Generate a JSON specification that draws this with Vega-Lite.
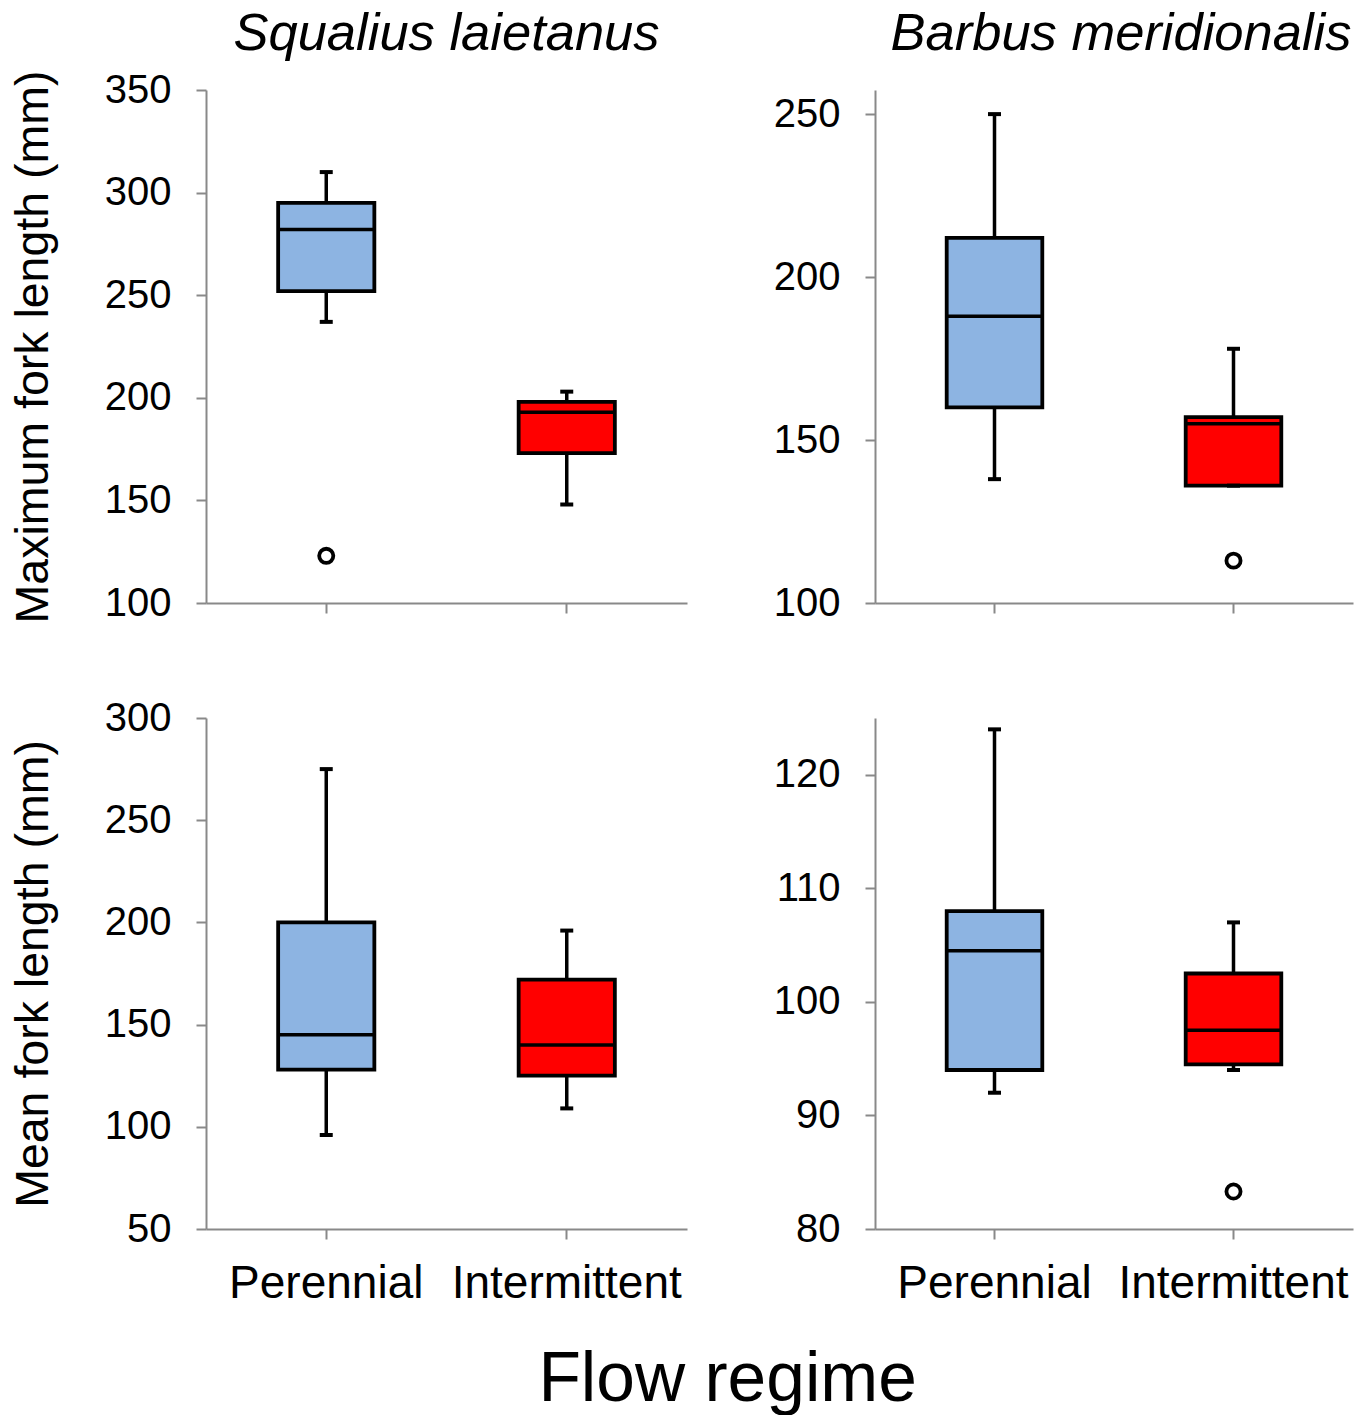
{
  "$schema": "https://vega.github.io/schema/vega-lite/v6.json",
  "background": "white",
  "padding": {"left": 10, "top": 7, "right": 14, "bottom": 0},
  "datasets": {
    "boxes": [
      {"panel": "TL", "regime": "Perennial", "lo": 237, "q1": 252, "med": 282, "q3": 295, "hi": 310, "outlier": 123},
      {"panel": "TL", "regime": "Intermittent", "lo": 148, "q1": 173, "med": 193, "q3": 198, "hi": 203, "outlier": null},
      {"panel": "TR", "regime": "Perennial", "lo": 138, "q1": 160, "med": 188, "q3": 212, "hi": 250, "outlier": null},
      {"panel": "TR", "regime": "Intermittent", "lo": 136, "q1": 136, "med": 155, "q3": 157, "hi": 178, "outlier": 113},
      {"panel": "BL", "regime": "Perennial", "lo": 96, "q1": 128, "med": 145, "q3": 200, "hi": 275, "outlier": null},
      {"panel": "BL", "regime": "Intermittent", "lo": 109, "q1": 125, "med": 140, "q3": 172, "hi": 196, "outlier": null},
      {"panel": "BR", "regime": "Perennial", "lo": 92, "q1": 94, "med": 104.5, "q3": 108, "hi": 124, "outlier": null},
      {"panel": "BR", "regime": "Intermittent", "lo": 94, "q1": 94.5, "med": 97.5, "q3": 102.5, "hi": 107, "outlier": 83.3}
    ]
  },
  "title": {"text": "Flow regime", "orient": "bottom", "anchor": "middle", "fontSize": 69.5, "fontWeight": "normal", "font": "Liberation Sans", "color": "black", "offset": 40, "dx": 46},
  "config": {
    "view": {"stroke": null},
    "font": "Liberation Sans",
    "axis": {"domainColor": "#898989", "domainWidth": 2, "tickColor": "#898989", "tickWidth": 2, "tickSize": 10, "labelFont": "Liberation Sans", "labelFontSize": 40, "labelColor": "black", "labelLimit": 0, "titleFont": "Liberation Sans", "titleFontWeight": "normal", "titleColor": "black", "grid": false},
    "title": {"font": "Liberation Sans", "color": "black"}
  },
  "vconcat": [
    {
      "hconcat": [
        {
          "width": 481, "height": 513,
          "title": {"text": "Squalius laietanus", "fontSize": 52.5, "fontStyle": "italic", "fontWeight": "normal", "offset": 9},
          "data": {"name": "boxes"},
          "transform": [{"filter": "datum.panel === 'TL'"}],
          "encoding": {"x": {"field": "regime", "type": "nominal", "scale": {"domain": ["Perennial", "Intermittent"], "paddingInner": 0, "paddingOuter": 0}, "axis": {"labels": false, "title": null}}},
          "layer": [
            {"mark": {"type": "rule", "strokeWidth": 3.5, "color": "black"}, "encoding": {"y": {"field": "lo", "type": "quantitative", "scale": {"domain": [100, 350], "nice": false}, "axis": {"values": [100, 150, 200, 250, 300, 350], "title": "Maximum fork length (mm)", "titleFontSize": 46.5, "titlePadding": 47, "labelPadding": 25}}, "y2": {"field": "hi"}}},
            {"mark": {"type": "bar", "stroke": "black", "strokeWidth": 3.8, "width": {"band": 0.4}}, "encoding": {"y": {"field": "q1", "type": "quantitative"}, "y2": {"field": "q3"}, "fill": {"field": "regime", "type": "nominal", "scale": {"domain": ["Perennial", "Intermittent"], "range": ["#8DB4E2", "#FF0000"]}, "legend": null}}},
            {"mark": {"type": "tick", "color": "black", "size": 97, "thickness": 3.5, "opacity": 1}, "encoding": {"y": {"field": "med", "type": "quantitative"}}},
            {"mark": {"type": "tick", "color": "black", "size": 13, "thickness": 4, "opacity": 1}, "encoding": {"y": {"field": "lo", "type": "quantitative"}}},
            {"mark": {"type": "tick", "color": "black", "size": 13, "thickness": 4, "opacity": 1}, "encoding": {"y": {"field": "hi", "type": "quantitative"}}},
            {"mark": {"type": "point", "shape": "circle", "filled": false, "stroke": "black", "strokeWidth": 3.8, "size": 200, "opacity": 1}, "encoding": {"y": {"field": "outlier", "type": "quantitative"}}}
          ]
        },
        {
          "width": 478, "height": 513,
          "title": {"text": "Barbus meridionalis", "fontSize": 52.5, "fontStyle": "italic", "fontWeight": "normal", "offset": 29, "dx": 7},
          "data": {"name": "boxes"},
          "transform": [{"filter": "datum.panel === 'TR'"}],
          "encoding": {"x": {"field": "regime", "type": "nominal", "scale": {"domain": ["Perennial", "Intermittent"], "paddingInner": 0, "paddingOuter": 0}, "axis": {"labels": false, "title": null}}},
          "layer": [
            {"mark": {"type": "rule", "strokeWidth": 3.5, "color": "black"}, "encoding": {"y": {"field": "lo", "type": "quantitative", "scale": {"domain": [100, 257.4], "nice": false}, "axis": {"values": [100, 150, 200, 250], "title": null, "labelPadding": 25}}, "y2": {"field": "hi"}}},
            {"mark": {"type": "bar", "stroke": "black", "strokeWidth": 3.8, "width": {"band": 0.4}}, "encoding": {"y": {"field": "q1", "type": "quantitative"}, "y2": {"field": "q3"}, "fill": {"field": "regime", "type": "nominal", "scale": {"domain": ["Perennial", "Intermittent"], "range": ["#8DB4E2", "#FF0000"]}, "legend": null}}},
            {"mark": {"type": "tick", "color": "black", "size": 97, "thickness": 3.5, "opacity": 1}, "encoding": {"y": {"field": "med", "type": "quantitative"}}},
            {"mark": {"type": "tick", "color": "black", "size": 13, "thickness": 4, "opacity": 1}, "encoding": {"y": {"field": "lo", "type": "quantitative"}}},
            {"mark": {"type": "tick", "color": "black", "size": 13, "thickness": 4, "opacity": 1}, "encoding": {"y": {"field": "hi", "type": "quantitative"}}},
            {"mark": {"type": "point", "shape": "circle", "filled": false, "stroke": "black", "strokeWidth": 3.8, "size": 200, "opacity": 1}, "encoding": {"y": {"field": "outlier", "type": "quantitative"}}}
          ]
        }
      ],
      "spacing": 86
    },
    {
      "hconcat": [
        {
          "width": 481, "height": 511,
          "data": {"name": "boxes"},
          "transform": [{"filter": "datum.panel === 'BL'"}],
          "encoding": {"x": {"field": "regime", "type": "nominal", "scale": {"domain": ["Perennial", "Intermittent"], "paddingInner": 0, "paddingOuter": 0}, "axis": {"labels": true, "labelAngle": 0, "labelFontSize": 46, "labelPadding": 22, "title": null}}},
          "layer": [
            {"mark": {"type": "rule", "strokeWidth": 3.5, "color": "black"}, "encoding": {"y": {"field": "lo", "type": "quantitative", "scale": {"domain": [50, 300], "nice": false}, "axis": {"values": [50, 100, 150, 200, 250, 300], "title": "Mean fork length (mm)", "titleFontSize": 46.5, "titlePadding": 47, "labelPadding": 25}}, "y2": {"field": "hi"}}},
            {"mark": {"type": "bar", "stroke": "black", "strokeWidth": 3.8, "width": {"band": 0.4}}, "encoding": {"y": {"field": "q1", "type": "quantitative"}, "y2": {"field": "q3"}, "fill": {"field": "regime", "type": "nominal", "scale": {"domain": ["Perennial", "Intermittent"], "range": ["#8DB4E2", "#FF0000"]}, "legend": null}}},
            {"mark": {"type": "tick", "color": "black", "size": 97, "thickness": 3.5, "opacity": 1}, "encoding": {"y": {"field": "med", "type": "quantitative"}}},
            {"mark": {"type": "tick", "color": "black", "size": 13, "thickness": 4, "opacity": 1}, "encoding": {"y": {"field": "lo", "type": "quantitative"}}},
            {"mark": {"type": "tick", "color": "black", "size": 13, "thickness": 4, "opacity": 1}, "encoding": {"y": {"field": "hi", "type": "quantitative"}}},
            {"mark": {"type": "point", "shape": "circle", "filled": false, "stroke": "black", "strokeWidth": 3.8, "size": 200, "opacity": 1}, "encoding": {"y": {"field": "outlier", "type": "quantitative"}}}
          ]
        },
        {
          "width": 478, "height": 511,
          "data": {"name": "boxes"},
          "transform": [{"filter": "datum.panel === 'BR'"}],
          "encoding": {"x": {"field": "regime", "type": "nominal", "scale": {"domain": ["Perennial", "Intermittent"], "paddingInner": 0, "paddingOuter": 0}, "axis": {"labels": true, "labelAngle": 0, "labelFontSize": 46, "labelPadding": 22, "title": null}}},
          "layer": [
            {"mark": {"type": "rule", "strokeWidth": 3.5, "color": "black"}, "encoding": {"y": {"field": "lo", "type": "quantitative", "scale": {"domain": [80, 125], "nice": false}, "axis": {"values": [80, 90, 100, 110, 120], "title": null, "labelPadding": 25}}, "y2": {"field": "hi"}}},
            {"mark": {"type": "bar", "stroke": "black", "strokeWidth": 3.8, "width": {"band": 0.4}}, "encoding": {"y": {"field": "q1", "type": "quantitative"}, "y2": {"field": "q3"}, "fill": {"field": "regime", "type": "nominal", "scale": {"domain": ["Perennial", "Intermittent"], "range": ["#8DB4E2", "#FF0000"]}, "legend": null}}},
            {"mark": {"type": "tick", "color": "black", "size": 97, "thickness": 3.5, "opacity": 1}, "encoding": {"y": {"field": "med", "type": "quantitative"}}},
            {"mark": {"type": "tick", "color": "black", "size": 13, "thickness": 4, "opacity": 1}, "encoding": {"y": {"field": "lo", "type": "quantitative"}}},
            {"mark": {"type": "tick", "color": "black", "size": 13, "thickness": 4, "opacity": 1}, "encoding": {"y": {"field": "hi", "type": "quantitative"}}},
            {"mark": {"type": "point", "shape": "circle", "filled": false, "stroke": "black", "strokeWidth": 3.8, "size": 200, "opacity": 1}, "encoding": {"y": {"field": "outlier", "type": "quantitative"}}}
          ]
        }
      ],
      "spacing": 86
    }
  ],
  "spacing": 75
}
